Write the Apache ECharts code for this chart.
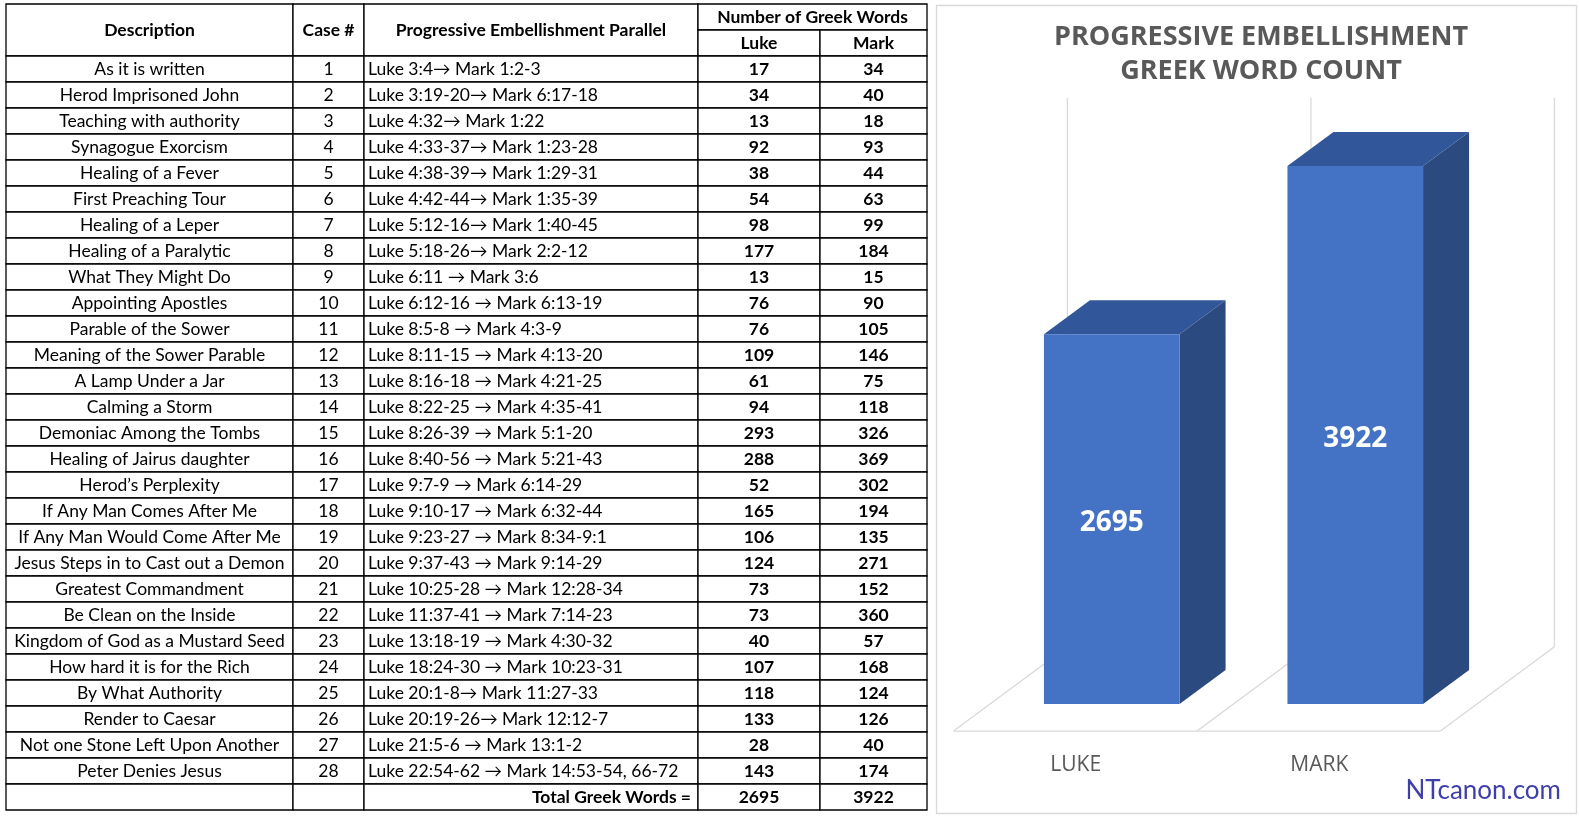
<!DOCTYPE html>
<html>
<head>
<meta charset="utf-8">
<script src="https://cdn.jsdelivr.net/npm/echarts@6/dist/echarts.min.js"></script>
<style>
html,body{margin:0;padding:0;background:#ffffff;}
#c{width:1579px;height:818px;}
</style>
</head>
<body>
<div id="c"></div>
<script>
// ---------------- data ----------------
const descriptions = [
  'As it is written', 'Herod Imprisoned John', 'Teaching with authority', 'Synagogue Exorcism',
  'Healing of a Fever', 'First Preaching Tour', 'Healing of a Leper', 'Healing of a Paralytic',
  'What They Might Do', 'Appointing Apostles', 'Parable of the Sower', 'Meaning of the Sower Parable',
  'A Lamp Under a Jar', 'Calming a Storm', 'Demoniac Among the Tombs', 'Healing of Jairus daughter',
  'Herod\u2019s Perplexity', 'If Any Man Comes After Me', 'If Any Man Would Come After Me',
  'Jesus Steps in to Cast out a Demon', 'Greatest Commandment', 'Be Clean on the Inside',
  'Kingdom of God as a Mustard Seed', 'How hard it is for the Rich', 'By What Authority',
  'Render to Caesar', 'Not one Stone Left Upon Another', 'Peter Denies Jesus'
];
const caseNumbers = [1,2,3,4,5,6,7,8,9,10,11,12,13,14,15,16,17,18,19,20,21,22,23,24,25,26,27,28];
const parallels = [
  'Luke 3:4\u2192 Mark 1:2-3', 'Luke 3:19-20\u2192 Mark 6:17-18', 'Luke 4:32\u2192 Mark 1:22',
  'Luke 4:33-37\u2192 Mark 1:23-28', 'Luke 4:38-39\u2192 Mark 1:29-31', 'Luke 4:42-44\u2192 Mark 1:35-39',
  'Luke 5:12-16\u2192 Mark 1:40-45', 'Luke 5:18-26\u2192 Mark 2:2-12', 'Luke 6:11 \u2192 Mark 3:6',
  'Luke 6:12-16 \u2192 Mark 6:13-19', 'Luke 8:5-8 \u2192 Mark 4:3-9', 'Luke 8:11-15 \u2192 Mark 4:13-20',
  'Luke 8:16-18 \u2192 Mark 4:21-25', 'Luke 8:22-25 \u2192 Mark 4:35-41', 'Luke 8:26-39 \u2192 Mark 5:1-20',
  'Luke 8:40-56 \u2192 Mark 5:21-43', 'Luke 9:7-9 \u2192 Mark 6:14-29', 'Luke 9:10-17 \u2192 Mark 6:32-44',
  'Luke 9:23-27 \u2192 Mark 8:34-9:1', 'Luke 9:37-43 \u2192 Mark 9:14-29', 'Luke 10:25-28 \u2192 Mark 12:28-34',
  'Luke 11:37-41 \u2192 Mark 7:14-23', 'Luke 13:18-19 \u2192 Mark 4:30-32', 'Luke 18:24-30 \u2192 Mark 10:23-31',
  'Luke 20:1-8\u2192 Mark 11:27-33', 'Luke 20:19-26\u2192 Mark 12:12-7', 'Luke 21:5-6 \u2192 Mark 13:1-2',
  'Luke 22:54-62 \u2192 Mark 14:53-54, 66-72'
];
const lukeWords = [17,34,13,92,38,54,98,177,13,76,76,109,61,94,293,288,52,165,106,124,73,73,40,107,118,133,28,143];
const markWords = [34,40,18,93,44,63,99,184,15,90,105,146,75,118,326,369,302,194,135,271,152,360,57,168,124,126,40,174];
const headerLabels = ['Description', 'Case #', 'Progressive Embellishment Parallel', 'Number of Greek Words', 'Luke', 'Mark'];
const totalLabel = 'Total Greek Words =';
const totalValues = [2695, 3922];

const barCategories = ['LUKE', 'MARK'];
const barValues = [2695, 3922];
const chartTitle = 'PROGRESSIVE EMBELLISHMENT\nGREEK WORD COUNT';
const watermarkText = 'NTcanon.com';

// ---------------- layout ----------------
// table column edges expressed in table x-axis units
const colEdges = [0, 287, 358, 692, 814, 921];
const rowKeys = ['h0', 'h1'].concat(caseNumbers.map(String), ['total']);
const tableData = [[0]].concat(caseNumbers.map((c, i) => [i + 2]), [[rowKeys.length - 1]]);

const FONT = 'Lato';
const FS = 17.5;

function tableItem(params, api) {
  const di = params.dataIndex;
  const r = api.value(0);
  const h = api.size([0, 1])[1];
  const cy = api.coord([0, r])[1];
  const X = colEdges.map(e => api.coord([e, r])[0]);
  const ch = [];
  const cell = (x0, x1, y0, y1) => ch.push({
    type: 'rect', shape: { x: x0, y: y0, width: x1 - x0, height: y1 - y0 },
    style: { fill: '#ffffff', stroke: '#000000', lineWidth: 1.3 }
  });
  const txt = (s, x, y, align, bold) => ch.push({
    type: 'text', z2: 10,
    style: { text: String(s), x: x, y: y + 0.5, align: align, verticalAlign: 'middle',
      fill: '#000000', fontSize: FS, fontFamily: FONT, fontWeight: bold ? 'bold' : 'normal' }
  });
  const mid = (a, b) => (a + b) / 2;
  if (di === 0) {
    const y0 = cy - h / 2, ym = cy + h / 2, y1 = cy + 1.5 * h;
    cell(X[0], X[1], y0, y1); cell(X[1], X[2], y0, y1); cell(X[2], X[3], y0, y1);
    cell(X[3], X[5], y0, ym); cell(X[3], X[4], ym, y1); cell(X[4], X[5], ym, y1);
    txt(headerLabels[0], mid(X[0], X[1]), cy + h / 2, 'center', true);
    txt(headerLabels[1], mid(X[1], X[2]), cy + h / 2, 'center', true);
    txt(headerLabels[2], mid(X[2], X[3]), cy + h / 2, 'center', true);
    txt(headerLabels[3], mid(X[3], X[5]), cy, 'center', true);
    txt(headerLabels[4], mid(X[3], X[4]), cy + h, 'center', true);
    txt(headerLabels[5], mid(X[4], X[5]), cy + h, 'center', true);
  } else {
    const y0 = cy - h / 2, y1 = cy + h / 2;
    for (let k = 0; k < 5; k++) cell(X[k], X[k + 1], y0, y1);
    if (di <= caseNumbers.length) {
      const i = di - 1;
      txt(descriptions[i], mid(X[0], X[1]), cy, 'center', false);
      txt(caseNumbers[i], mid(X[1], X[2]), cy, 'center', false);
      txt(parallels[i], X[2] + 4, cy, 'left', false);
      txt(lukeWords[i], mid(X[3], X[4]), cy, 'center', true);
      txt(markWords[i], mid(X[4], X[5]), cy, 'center', true);
    } else {
      txt(totalLabel, X[3] - 7, cy, 'right', true);
      txt(totalValues[0], mid(X[3], X[4]), cy, 'center', true);
      txt(totalValues[1], mid(X[4], X[5]), cy, 'center', true);
    }
  }
  return { type: 'group', children: ch };
}

// 3D depth geometry, in fractions of the category band width
const D_FLOOR_FRONT = -0.150, D_BAR_BACK = 0.189, D_FLOOR_BACK = 0.318, SLOPE = 0.74;
const BAR_W = 0.557;
const WALL_MAX = 4000;
const FLOOR_COLOR = '#d9d9d9';

function floorItem(params, api) {
  const i = api.value(0);
  const band = api.size([1, 0])[0];
  const base = api.coord([i, 0]);
  const topV = api.coord([i, WALL_MAX]);
  const left = base[0] - band / 2, right = base[0] + band / 2;
  const ff = D_FLOOR_FRONT * band, fb = D_FLOOR_BACK * band;
  const ch = [];
  const line = (x1, y1, x2, y2) => ch.push({
    type: 'line', shape: { x1, y1, x2, y2 }, style: { stroke: FLOOR_COLOR, lineWidth: 1.3 }
  });
  const edges = [left];
  if (i === barCategories.length - 1) edges.push(right);
  edges.forEach(ex => {
    line(ex + ff, base[1] - ff * SLOPE, ex + fb, base[1] - fb * SLOPE);
    line(ex + fb, base[1] - fb * SLOPE, ex + fb, topV[1] - fb * SLOPE);
  });
  line(left + ff, base[1] - ff * SLOPE, right + ff, base[1] - ff * SLOPE);
  return { type: 'group', children: ch };
}

function barItem(params, api) {
  const i = api.value(0), v = api.value(1);
  const band = api.size([1, 0])[0];
  const base = api.coord([i, 0]);
  const top = api.coord([i, v]);
  const w = band * BAR_W;
  const dx = band * D_BAR_BACK, dy = -dx * SLOPE;
  const x0 = base[0] - w / 2, x1 = base[0] + w / 2;
  const yt = top[1], yb = base[1];
  return {
    type: 'group',
    children: [
      { type: 'polygon', shape: { points: [[x1, yt], [x1 + dx, yt + dy], [x1 + dx, yb + dy], [x1, yb]] },
        style: { fill: '#2B4A80' } },
      { type: 'polygon', shape: { points: [[x0, yt], [x1, yt], [x1 + dx, yt + dy], [x0 + dx, yt + dy]] },
        style: { fill: '#31569A' } },
      { type: 'rect', shape: { x: x0, y: yt, width: w, height: yb - yt },
        style: { fill: '#4472C4' } },
      { type: 'text', z2: 10, style: { text: String(v), x: base[0], y: (yt + yb) / 2 + 4, align: 'center',
        verticalAlign: 'middle', fill: '#ffffff', fontSize: 28, fontWeight: 'bold', fontFamily: 'Open Sans' } }
    ]
  };
}

const chart = echarts.init(document.getElementById('c'), null, { renderer: 'canvas' });
chart.setOption({
  backgroundColor: '#ffffff',
  animation: false,
  title: [
    { text: chartTitle, left: 1256, top: 15, textAlign: 'center',
      textStyle: { fontFamily: 'Open Sans', fontWeight: 'bold', fontSize: 27, color: '#595959', lineHeight: 34 } },
    { text: watermarkText, right: 13, top: 771,
      textStyle: { fontFamily: FONT, fontWeight: 'normal', fontSize: 26, color: '#3F3FAA', lineHeight: 30 } }
  ],
  graphic: [
    { type: 'rect', z: -1, shape: { x: 936.5, y: 5.5, width: 640, height: 808 },
      style: { fill: '#ffffff', stroke: '#d9d9d9', lineWidth: 1.3 } }
  ],
  grid: [
    { left: 990, right: 102, top: 155.3, bottom: 114 },
    { left: 6, top: 4, width: 921, height: 806 }
  ],
  xAxis: [
    { type: 'category', gridIndex: 0, data: barCategories, boundaryGap: true,
      axisLine: { show: false }, axisTick: { show: false }, splitLine: { show: false },
      axisLabel: { margin: 51, color: '#595959', fontFamily: 'Open Sans', fontSize: 21, padding: [0, 72, 0, 0] } },
    { type: 'value', gridIndex: 1, min: 0, max: 921, show: false }
  ],
  yAxis: [
    { type: 'value', gridIndex: 0, min: 0, max: 4000, show: false },
    { type: 'category', gridIndex: 1, data: rowKeys, inverse: true, show: false }
  ],
  series: [
    { type: 'custom', name: 'floor', xAxisIndex: 0, yAxisIndex: 0, z: 1, silent: true,
      data: barCategories.map((c, i) => [i]), encode: { x: 0 }, renderItem: floorItem },
    { type: 'custom', name: 'Greek words', xAxisIndex: 0, yAxisIndex: 0, z: 2,
      data: barValues.map((v, i) => [i, v]), encode: { x: 0, y: 1 }, renderItem: barItem },
    { type: 'custom', name: 'table', xAxisIndex: 1, yAxisIndex: 1, z: 3,
      data: tableData, encode: { y: 0 }, renderItem: tableItem }
  ]
});
</script>
</body>
</html>
